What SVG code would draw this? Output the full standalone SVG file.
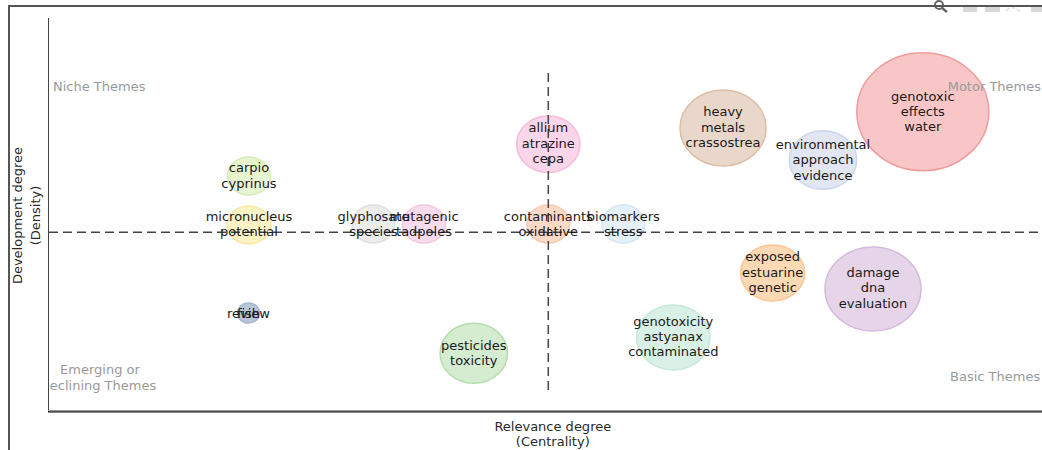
<svg xmlns="http://www.w3.org/2000/svg" width="1042" height="450" viewBox="0 0 1042 450">
<defs>
<style>
.lbl{font-family:"DejaVu Sans",Verdana,sans-serif;font-size:13px;fill:#1a1a1a;text-anchor:middle}
.quad{font-family:"DejaVu Sans",Verdana,sans-serif;font-size:13px;fill:#9a9a9a}
.axt{font-family:"DejaVu Sans",Verdana,sans-serif;font-size:13px;fill:#2a2a2a;text-anchor:middle}
.b{stroke-width:1.5}
.dash{stroke:#444;stroke-width:1.5;stroke-dasharray:9,5;fill:none}
</style>
<clipPath id="plot"><rect x="49" y="18" width="993" height="394"/></clipPath>
</defs>
<rect width="1042" height="450" fill="#fff"/>
<g id="modebar">
<circle cx="939" cy="5" r="4" fill="none" stroke="#666" stroke-width="2"/>
<line x1="942" y1="8" x2="947" y2="12" stroke="#666" stroke-width="2.5"/>
<rect x="963" y="6" width="14" height="6" fill="#d8d8d8"/>
<rect x="985" y="6" width="15" height="6" fill="#d8d8d8"/>
<path d="M1006 11 L1009 8 M1012 8 L1015 8 M1017 9 L1020 12" stroke="#ddd" stroke-width="1.5" fill="none"/>
<rect x="1031" y="6" width="11" height="6" fill="#d8d8d8"/>
</g>
<g id="frame">
<line x1="8" y1="6" x2="1042" y2="6" stroke="#555" stroke-width="2"/>
<line x1="9" y1="5" x2="9" y2="450" stroke="#555" stroke-width="2"/>
<line x1="48.5" y1="18" x2="48.5" y2="412" stroke="#444" stroke-width="1"/>
<line x1="48" y1="410.5" x2="1042" y2="410.5" stroke="#999" stroke-width="1"/>
<line x1="48" y1="411.8" x2="1042" y2="411.8" stroke="#111" stroke-width="1.3"/>
</g>
<g id="bubbles">
<g id="node-carpio"><ellipse class="b" cx="249" cy="176" rx="21.5" ry="19" fill="#e7f4d0" stroke="#d6ecbc"/></g>
<g id="node-micronucleus"><ellipse class="b" cx="249" cy="225" rx="22" ry="19" fill="#fdf3c6" stroke="#fbe8a4"/></g>
<g id="node-review"><ellipse class="b" cx="248.5" cy="313" rx="11" ry="10" fill="#b8c6d6" stroke="#a4b6ca"/></g>
<g id="node-glyphosate"><ellipse class="b" cx="373.5" cy="224" rx="21.5" ry="19" fill="#ececec" stroke="#e0e0e0"/></g>
<g id="node-mutagenic"><ellipse class="b" cx="424" cy="224" rx="21.5" ry="19" fill="#f8dcee" stroke="#f1cae4"/></g>
<g id="node-contaminants"><ellipse class="b" cx="548.3" cy="224" rx="21.5" ry="19" fill="#fdd9c7" stroke="#fbc9b2"/></g>
<g id="node-biomarkers"><ellipse class="b" cx="623.3" cy="224" rx="21.5" ry="19" fill="#e5f0f8" stroke="#d5e6f3"/></g>
<g id="node-allium"><ellipse class="b" cx="548.3" cy="144.3" rx="31.7" ry="28.3" fill="#fbd6ea" stroke="#f5bcda"/></g>
<g id="node-heavy"><ellipse class="b" cx="723" cy="128" rx="43" ry="38" fill="#ead7cb" stroke="#dcbea9"/></g>
<g id="node-environmental"><ellipse class="b" cx="823" cy="160" rx="33.7" ry="29.3" fill="#e2e6f2" stroke="#cdd5ea"/></g>
<g id="node-genotoxic"><ellipse class="b" cx="922.8" cy="111.7" rx="66" ry="59" fill="#f8c6c6" stroke="#f09c9c"/></g>
<g id="node-exposed"><ellipse class="b" cx="772.7" cy="273" rx="32" ry="28" fill="#fdd9b6" stroke="#fcc592"/></g>
<g id="node-damage"><ellipse class="b" cx="873" cy="289" rx="48" ry="42" fill="#e6d4e8" stroke="#d5badc"/></g>
<g id="node-genotoxicity"><ellipse class="b" cx="673.3" cy="337.5" rx="36.7" ry="32.5" fill="#d9f0e6" stroke="#c5e8da"/></g>
<g id="node-pesticides"><ellipse class="b" cx="473.8" cy="353.3" rx="33.8" ry="30" fill="#d5ecd0" stroke="#b6ddae"/></g>
</g>
<g id="connectors">
<line class="dash" x1="49" y1="232.3" x2="1042" y2="232.3"/>
<line class="dash" x1="548.3" y1="73" x2="548.3" y2="392"/>
</g>
<g id="quadrant-labels">
<text class="quad" x="53" y="91">Niche Themes</text>
<text class="quad" x="1041" y="91" text-anchor="end">Motor Themes</text>
<text class="quad" x="950" y="381">Basic Themes</text>
<g clip-path="url(#plot)">
<text class="quad" x="100" y="374" text-anchor="middle">Emerging or</text>
<text class="quad" x="98" y="389.5" text-anchor="middle">Declining Themes</text>
</g>
</g>
<g id="labels">
<text class="lbl" x="249" y="172">carpio</text><text class="lbl" x="249" y="188">cyprinus</text>
<text class="lbl" x="249" y="220.5">micronucleus</text><text class="lbl" x="249" y="235.5">potential</text>
<text class="lbl" x="248.5" y="317.5">review</text><text class="lbl" x="248.5" y="317.5">fish</text>
<text class="lbl" x="373.5" y="220.5">glyphosate</text><text class="lbl" x="373.5" y="236">species</text>
<text class="lbl" x="424" y="220.5">mutagenic</text><text class="lbl" x="424" y="236">tadpoles</text>
<text class="lbl" x="548.3" y="220.5">contaminants</text><text class="lbl" x="548.3" y="236">oxidative</text>
<text class="lbl" x="623.3" y="220.5">biomarkers</text><text class="lbl" x="623.3" y="236">stress</text>
<text class="lbl" x="548.3" y="132">allium</text><text class="lbl" x="548.3" y="147.5">atrazine</text><text class="lbl" x="548.3" y="163">cepa</text>
<text class="lbl" x="723" y="116">heavy</text><text class="lbl" x="723" y="131.5">metals</text><text class="lbl" x="723" y="147">crassostrea</text>
<text class="lbl" x="823" y="149">environmental</text><text class="lbl" x="823" y="164">approach</text><text class="lbl" x="823" y="179.5">evidence</text>
<text class="lbl" x="922.8" y="100.5">genotoxic</text><text class="lbl" x="922.8" y="115.5">effects</text><text class="lbl" x="922.8" y="130.5">water</text>
<text class="lbl" x="772.7" y="261">exposed</text><text class="lbl" x="772.7" y="276.5">estuarine</text><text class="lbl" x="772.7" y="292">genetic</text>
<text class="lbl" x="873" y="277">damage</text><text class="lbl" x="873" y="292">dna</text><text class="lbl" x="873" y="307.5">evaluation</text>
<text class="lbl" x="673.3" y="326">genotoxicity</text><text class="lbl" x="673.3" y="341">astyanax</text><text class="lbl" x="673.3" y="356">contaminated</text>
<text class="lbl" x="473.8" y="349.5">pesticides</text><text class="lbl" x="473.8" y="364.5">toxicity</text>
</g>
<g id="axis-titles">
<text class="axt" x="552.8" y="430.5">Relevance degree</text>
<text class="axt" x="552.8" y="445.5">(Centrality)</text>
<g transform="translate(22,215.5) rotate(-90)">
<text class="axt" x="0" y="0">Development degree</text>
<text class="axt" x="0" y="17.5">(Density)</text>
</g>
</g>
</svg>
